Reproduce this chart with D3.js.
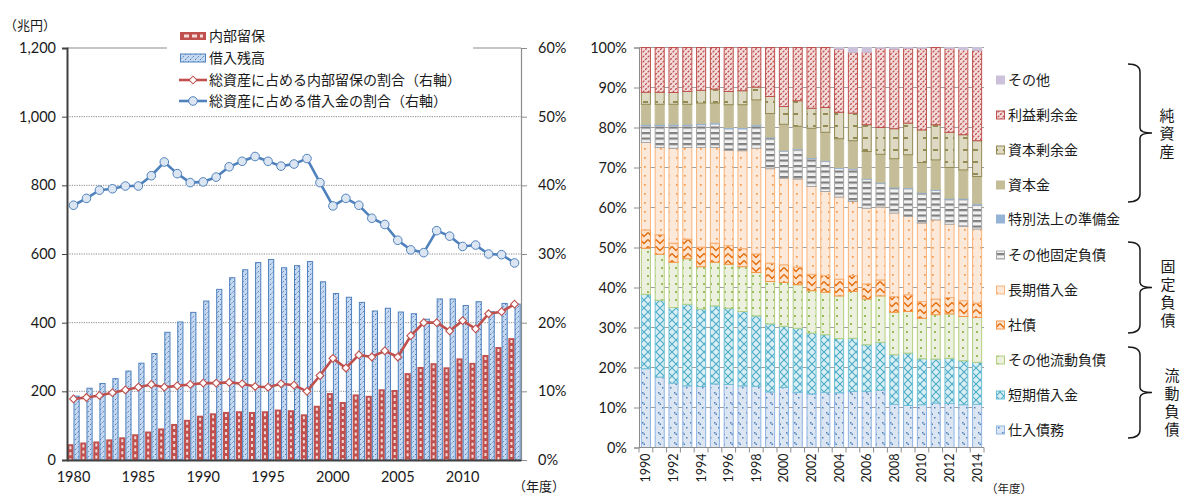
<!DOCTYPE html>
<html>
<head>
<meta charset="utf-8">
<script src="https://cdn.jsdelivr.net/npm/d3@7"></script>
<style>
  body { margin: 0; background: #fff; }
  svg text { font-family: Lato, "Noto Sans CJK JP", sans-serif; fill: #1a1a1a; }
  .jp { font-family: "Noto Sans CJK JP", sans-serif; }
  .vert { font-family: "Noto Sans CJK JP", sans-serif; writing-mode: vertical-rl; text-orientation: upright; }
</style>
</head>
<body>
<svg id="chart" width="1181" height="495"></svg>
<script>
// ---------- Left panel: retained earnings & borrowings (trillion yen) ----------
const leftYears = [1980,1981,1982,1983,1984,1985,1986,1987,1988,1989,1990,1991,1992,1993,1994,1995,1996,1997,1998,1999,2000,2001,2002,2003,2004,2005,2006,2007,2008,2009,2010,2011,2012,2013,2014];
const retained   = [46,51,54,60,66,75,83,92,105,117,129,136,140,142,140,142,147,145,133,158,195,169,191,187,206,204,253,271,282,270,296,283,306,329,355];
const borrowings = [186,209,223,237,259,282,310,372,402,430,463,497,531,554,575,584,560,566,578,519,485,474,459,434,442,431,426,410,469,469,450,461,432,456,454];
// share of total assets, percent (right axis)
const retainedShare = [8.9,9.1,9.4,9.8,10.2,10.6,11.0,10.6,10.8,11.0,11.2,11.2,11.3,11.1,10.7,10.6,11.1,10.9,10.0,12.3,14.8,13.4,15.3,15.0,15.9,15.0,18.1,20.0,20.0,18.8,20.3,19.1,21.3,21.6,22.7];
const borrowShare   = [37.1,38.1,39.3,39.5,39.9,39.9,41.4,43.4,41.7,40.4,40.5,41.2,42.7,43.5,44.2,43.5,42.8,43.1,43.9,40.4,37.0,38.1,37.1,35.2,34.3,32.0,30.6,30.2,33.4,32.6,31.1,31.3,30.0,29.9,28.7];
const leftValueTicks = [0,200,400,600,800,1000,1200];
const leftPctTicks = [0,10,20,30,40,50,60];
const leftYearLabels = [1980,1985,1990,1995,2000,2005,2010];
const leftLegend = ["内部留保","借入残高","総資産に占める内部留保の割合（右軸）","総資産に占める借入金の割合（右軸）"];

// ---------- Right panel: composition of liabilities & net assets (%) ----------
const rightYears = ["1990","1991","1992","1993","1994","1995","1996","1997","1998","1999","2000","2001","2002","2003","2004","2005","2006","2007","2008","2009","2010","2011","2012","2013","2014"];
const rightYearLabels = ["1990","1992","1994","1996","1998","2000","2002","2004","2006","2008","2010","2012","2014"];
const shiire     = [19.7,17.6,16.1,15.4,15.25,15.9,15.75,15.4,15.3,13.9,15.0,13.8,13.4,13.8,13.7,14.0,14.0,14.3,10.8,10.5,10.7,11.1,11.0,10.7,10.8];
const tanki      = [18.6,19.2,18.9,20.4,19.35,19.5,19.05,18.6,17.6,17.0,15.3,16.0,15.2,14.4,13.55,13.3,11.7,12.0,12.4,13.1,11.5,11.0,11.3,11.0,10.5];
const ryudoOther = [11.5,11.5,11.3,11.4,10.6,10.9,11.0,11.2,10.85,10.6,10.95,10.9,10.6,10.6,10.65,11.7,11.4,11.6,10.6,10.4,10.1,11.1,11.1,11.05,11.2];
const shasai     = [4.6,4.9,4.8,4.9,4.9,4.8,4.7,4.5,4.65,4.6,4.45,4.4,4.1,4.2,4.2,4.0,3.8,4.0,3.95,4.2,4.2,3.9,4.1,3.95,3.6];
const choki      = [21.85,21.8,23.7,22.9,24.9,23.9,23.75,24.5,26.4,23.6,21.6,22.0,21.95,21.0,20.5,18.5,18.9,18.2,20.85,19.55,19.6,19.8,18.3,18.55,18.5];
const koteiOther = [4.25,5.5,5.7,5.5,5.7,5.9,5.45,5.5,5.6,7.7,6.8,7.4,7.05,7.5,7.2,8.1,7.2,6.0,6.3,7.05,7.5,7.4,6.3,6.85,6.2];
const junbikin   = [0.3,0.3,0.3,0.3,0.3,0.3,0.3,0.3,0.3,0.2,0.2,0.2,0.2,0.2,0.2,0.2,0.2,0.2,0.2,0.2,0.2,0.2,0.2,0.2,0.2];
const shihonkin  = [5.0,5.0,5.0,5.0,5.1,4.9,5.7,5.7,6.2,5.9,6.5,5.6,7.3,7.1,7.2,6.9,6.8,7.0,7.1,8.2,7.45,7.4,7.7,7.1,6.75];
const shihonJoyo = [3.0,3.0,2.95,3.2,3.2,3.5,3.3,3.5,3.2,4.25,4.45,6.4,5.0,6.2,6.6,6.9,6.7,6.7,7.5,7.9,8.15,8.8,8.8,8.8,8.95];
const riekiJoyo  = [11.2,11.2,11.25,11.0,10.7,10.4,11.0,10.8,9.9,12.25,14.75,13.3,15.2,15.0,15.8,15.2,18.1,19.8,19.9,18.7,20.4,19.3,20.9,21.3,22.6];
const sonota     = [0,0,0,0,0,0,0,0,0,0,0,0,0,0,0.4,1.2,1.2,0.2,0.4,0.2,0.2,0,0.3,0.5,0.7];
const rightPctTicks = [0,10,20,30,40,50,60,70,80,90,100];

// series, bottom to top
const rightSeries = [
  {key:"shiire",     name:"仕入債務",         values:shiire,     fill:"url(#pShiire)", stroke:"#8eb4e3"},
  {key:"tanki",      name:"短期借入金",       values:tanki,      fill:"url(#pTanki)",  stroke:"#6fc0d6"},
  {key:"ryudoOther", name:"その他流動負債",   values:ryudoOther, fill:"url(#pRyudo)",  stroke:"#b3cf7f"},
  {key:"shasai",     name:"社債",             values:shasai,     fill:"url(#pShasai)", stroke:"#f79646"},
  {key:"choki",      name:"長期借入金",       values:choki,      fill:"url(#pChoki)",  stroke:"#f9b47c"},
  {key:"koteiOther", name:"その他固定負債",   values:koteiOther, fill:"url(#pKotei)",  stroke:"#a6a6a6"},
  {key:"junbikin",   name:"特別法上の準備金", values:junbikin,   fill:"#95b3d7",       stroke:"#95b3d7"},
  {key:"shihonkin",  name:"資本金",           values:shihonkin,  fill:"#c4bd97",       stroke:"#c4bd97"},
  {key:"shihonJoyo", name:"資本剰余金",       values:shihonJoyo, fill:"url(#pShihonJ)",stroke:"#948a54"},
  {key:"riekiJoyo",  name:"利益剰余金",       values:riekiJoyo,  fill:"url(#pRieki)",  stroke:"#c0504d"},
  {key:"sonota",     name:"その他",           values:sonota,     fill:"#ccc1da",       stroke:"#ccc1da"}
];

const svg = d3.select("#chart");
const defs = svg.append("defs");

function pattern(id, w, h, bg, draw) {
  const p = defs.append("pattern").attr("id", id)
    .attr("patternUnits", "userSpaceOnUse").attr("width", w).attr("height", h);
  p.append("rect").attr("width", w).attr("height", h).attr("fill", bg);
  draw(p);
}
pattern("pShiire", 8, 10, "#dce6f2", p => {
  p.append("rect").attr("x", 2).attr("y", 2).attr("width", 1.5).attr("height", 1.5).attr("fill", "#4f81bd");
  p.append("rect").attr("x", 3.5).attr("y", 3.5).attr("width", 1.5).attr("height", 1.5).attr("fill", "#4f81bd");
  p.append("rect").attr("x", 6).attr("y", 7).attr("width", 1.5).attr("height", 1.5).attr("fill", "#4f81bd");
});
pattern("pTanki", 8, 8, "#daeef3", p => {
  p.append("path").attr("d", "M0,0 L8,8 M8,0 L0,8").attr("stroke", "#4bacc6").attr("stroke-width", 1.1).attr("fill", "none");
});
pattern("pRyudo", 7, 8, "#ebf1de", p => {
  p.append("rect").attr("x", 3).attr("y", 3).attr("width", 2).attr("height", 2).attr("fill", "#9bbb59");
});
pattern("pShasai", 8, 7, "#fde4d0", p => {
  p.append("path").attr("d", "M0,1.5 L4,5.5 L8,1.5").attr("stroke", "#e46c0a").attr("stroke-width", 1.4).attr("fill", "none");
});
pattern("pChoki", 8, 9, "#fde9d9", p => {
  p.append("rect").attr("x", 4).attr("y", 4).attr("width", 1.7).attr("height", 1.7).attr("fill", "#f79646");
});
pattern("pKotei", 6, 5.5, "#f2f2f2", p => {
  p.append("rect").attr("x", 0).attr("y", 0).attr("width", 6).attr("height", 2.2).attr("fill", "#7f7f7f");
});
pattern("pShihonJ", 10, 12, "#ddd9c3", p => {
  p.append("rect").attr("x", 3).attr("y", 5).attr("width", 5).attr("height", 2).attr("fill", "#948a54");
});
pattern("pRieki", 5, 5, "#f2dcdb", p => {
  p.append("path").attr("d", "M0,5 L5,0").attr("stroke", "#c0504d").attr("stroke-width", 1.3).attr("stroke-dasharray", "2.5,1.2");
});
pattern("pBorrow", 5, 5, "#c6d9f1", p => {
  p.append("path").attr("d", "M0,5 L5,0").attr("stroke", "#4f81bd").attr("stroke-width", 1).attr("stroke-dasharray", "2,1.5");
});

// =============== LEFT PANEL ===============
const L = {x0: 67, x1: 521, y0: 460, y1: 48};
const xL = d3.scaleBand().domain(leftYears).range([L.x0, L.x1]);
const xSub = d3.scaleBand().domain(["r", "b"]).range([0, xL.bandwidth()]).paddingOuter(0.05);
const yL = d3.scaleLinear().domain([0, 1200]).range([L.y0, L.y1]);
const yP = d3.scaleLinear().domain([0, 60]).range([L.y0, L.y1]);

const gl = svg.append("g");
// gridlines
gl.append("g").selectAll("line").data(leftValueTicks.filter(d => d > 0)).join("line")
  .attr("x1", L.x0).attr("x2", L.x1)
  .attr("y1", d => yL(d)).attr("y2", d => yL(d))
  .attr("stroke", d => d === 1200 ? "#8c8c8c" : "#7f7f7f")
  .attr("stroke-width", d => d === 1200 ? 1.2 : 0.9)
  .attr("stroke-dasharray", d => d === 1200 ? null : "1.2,1.2");

// retained earnings bars
const gRet = gl.append("g");
leftYears.forEach((yr, i) => {
  const x = xL(yr) + xSub("r"), w = xSub.bandwidth();
  gRet.append("rect").attr("x", x).attr("y", yL(retained[i])).attr("width", w)
    .attr("height", yL(0) - yL(retained[i])).attr("fill", "#c0504d");
  gRet.append("line").attr("x1", x + w / 2).attr("x2", x + w / 2)
    .attr("y1", yL(retained[i]) + 2).attr("y2", yL(0))
    .attr("stroke", "#f2dcdb").attr("stroke-width", 2).attr("stroke-dasharray", "3,3");
});
// borrowings bars
gl.append("g").selectAll("rect").data(leftYears).join("rect")
  .attr("x", d => xL(d) + xSub("b") + 0.5)
  .attr("y", (d, i) => yL(borrowings[i]))
  .attr("width", xSub.bandwidth() - 1)
  .attr("height", (d, i) => yL(0) - yL(borrowings[i]))
  .attr("fill", "url(#pBorrow)").attr("stroke", "#4f81bd").attr("stroke-width", 1);

const cx = d => xL(d) + xL.bandwidth() / 2;
// retained share line
gl.append("path").datum(leftYears)
  .attr("d", d3.line().x(cx).y((d, i) => yP(retainedShare[i])))
  .attr("fill", "none").attr("stroke", "#c0504d").attr("stroke-width", 2.6);
gl.append("g").selectAll("path").data(leftYears).join("path")
  .attr("transform", (d, i) => `translate(${cx(d)},${yP(retainedShare[i])}) rotate(45)`)
  .attr("d", d3.symbol().type(d3.symbolSquare).size(30))
  .attr("fill", "#fff").attr("stroke", "#c0504d").attr("stroke-width", 1.1);
// borrowings share line
gl.append("path").datum(leftYears)
  .attr("d", d3.line().x(cx).y((d, i) => yP(borrowShare[i])))
  .attr("fill", "none").attr("stroke", "#4f81bd").attr("stroke-width", 2.6);
gl.append("g").selectAll("circle").data(leftYears).join("circle")
  .attr("cx", cx).attr("cy", (d, i) => yP(borrowShare[i])).attr("r", 4.3)
  .attr("fill", "#dce6f2").attr("stroke", "#4f81bd").attr("stroke-width", 1);

// axes
const axL = gl.append("g").attr("transform", `translate(${L.x0},0)`)
  .call(d3.axisLeft(yL).tickValues(leftValueTicks).tickFormat(d3.format(",")).tickSize(5).tickPadding(6));
axL.select(".domain").attr("stroke", "#404040").attr("stroke-width", 2);
axL.selectAll(".tick line").attr("stroke", "#404040");
const axR = gl.append("g").attr("transform", `translate(${L.x1},0)`)
  .call(d3.axisRight(yP).tickValues(leftPctTicks).tickFormat(d => d + "%").tickSize(6).tickPadding(11));
axR.select(".domain").attr("stroke", "#8c8c8c").attr("stroke-width", 1.2);
axR.selectAll(".tick line").attr("stroke", "#8c8c8c");
const axB = gl.append("g").attr("transform", `translate(0,${L.y0})`)
  .call(d3.axisBottom(xL).tickValues(leftYearLabels).tickSize(0).tickPadding(12));
axB.select(".domain").attr("stroke", "#404040").attr("stroke-width", 2);
[axL, axR, axB].forEach(a => a.selectAll("text").attr("font-size", 14.5).attr("font-family", "Lato, sans-serif").attr("fill", "#1a1a1a"));

gl.append("text").attr("class", "jp").attr("x", 4).attr("y", 30).attr("font-size", 13).text("（兆円）");
gl.append("text").attr("class", "jp").attr("x", 513).attr("y", 491).attr("font-size", 13).text("（年度）");

// legend
const lg = gl.append("g");
lg.append("rect").attr("x", 167).attr("y", 24).attr("width", 306).attr("height", 89).attr("fill", "#fff");
const legY = [36, 58, 80, 101];
lg.append("rect").attr("x", 180).attr("y", legY[0] - 4).attr("width", 26).attr("height", 8).attr("fill", "#c0504d");
lg.append("line").attr("x1", 184).attr("x2", 203).attr("y1", legY[0]).attr("y2", legY[0])
  .attr("stroke", "#f2dcdb").attr("stroke-width", 3).attr("stroke-dasharray", "5,3");
lg.append("rect").attr("x", 180.5).attr("y", legY[1] - 4).attr("width", 25).attr("height", 8)
  .attr("fill", "url(#pBorrow)").attr("stroke", "#4f81bd");
lg.append("line").attr("x1", 179).attr("x2", 207).attr("y1", legY[2]).attr("y2", legY[2])
  .attr("stroke", "#c0504d").attr("stroke-width", 2.6);
lg.append("path").attr("transform", `translate(193,${legY[2]}) rotate(45)`)
  .attr("d", d3.symbol().type(d3.symbolSquare).size(30)).attr("fill", "#fff").attr("stroke", "#c0504d");
lg.append("line").attr("x1", 179).attr("x2", 207).attr("y1", legY[3]).attr("y2", legY[3])
  .attr("stroke", "#4f81bd").attr("stroke-width", 2.6);
lg.append("circle").attr("cx", 193).attr("cy", legY[3]).attr("r", 4.3)
  .attr("fill", "#dce6f2").attr("stroke", "#4f81bd");
lg.selectAll("text").data(leftLegend).join("text").attr("class", "jp")
  .attr("x", 209).attr("y", (d, i) => legY[i] + 5).attr("font-size", 14).text(d => d);

// =============== RIGHT PANEL ===============
const R = {x0: 639, x1: 984, y0: 447.5, y1: 47.5};
const xR = d3.scaleBand().domain(rightYears).range([R.x0, R.x1]).paddingInner(0.27).paddingOuter(0.135);
const yR = d3.scaleLinear().domain([0, 100]).range([R.y0, R.y1]);
const gr = svg.append("g");

gr.append("g").selectAll("line").data(rightPctTicks.filter(d => d > 0)).join("line")
  .attr("x1", R.x0).attr("x2", R.x1).attr("y1", d => yR(d)).attr("y2", d => yR(d))
  .attr("stroke", "#a0a0a0").attr("stroke-width", 1);

const rows = rightYears.map((yr, i) => {
  const r = {year: yr};
  rightSeries.forEach(s => r[s.key] = s.values[i]);
  return r;
});
const stacked = d3.stack().keys(rightSeries.map(s => s.key))(rows);
stacked.forEach((layer, li) => {
  const s = rightSeries[li];
  gr.append("g").selectAll("rect").data(layer.filter(d => d[1] - d[0] > 0)).join("rect")
    .attr("x", d => xR(d.data.year) + 0.5)
    .attr("y", d => yR(d[1]))
    .attr("width", xR.bandwidth() - 1)
    .attr("height", d => yR(d[0]) - yR(d[1]))
    .attr("fill", s.fill).attr("stroke", s.stroke).attr("stroke-width", 1);
});

const axRL = gr.append("g").attr("transform", `translate(${R.x0},0)`)
  .call(d3.axisLeft(yR).tickValues(rightPctTicks).tickFormat(d => d + "%").tickSize(5).tickPadding(7));
axRL.select(".domain").attr("stroke", "#8c8c8c");
axRL.selectAll(".tick line").attr("stroke", "#8c8c8c");
axRL.selectAll("text").attr("font-size", 14.5).attr("font-family", "Lato, sans-serif").attr("fill", "#1a1a1a");

// bottom axis with category ticks between bars
const xEdges = rightYears.map(y => xR(y) - xR.step() * xR.paddingInner() / 2).concat([R.x1]);
gr.append("line").attr("x1", R.x0).attr("x2", R.x1).attr("y1", R.y0).attr("y2", R.y0).attr("stroke", "#8c8c8c");
gr.append("g").selectAll("line").data(xEdges).join("line")
  .attr("x1", d => d).attr("x2", d => d).attr("y1", R.y0).attr("y2", R.y0 + 5).attr("stroke", "#8c8c8c");
gr.append("g").selectAll("text").data(rightYearLabels).join("text")
  .attr("transform", d => `translate(${xR(d) + xR.bandwidth() / 2 + 4.5},${R.y0 + 6}) rotate(-90)`)
  .attr("text-anchor", "end").attr("font-size", 12.5).text(d => d);
gr.append("text").attr("class", "jp").attr("x", 986).attr("y", 493).attr("font-size", 11.5).text("（年度）");

// right legend, top entry first
const legendOrder = ["sonota","riekiJoyo","shihonJoyo","shihonkin","junbikin","koteiOther","choki","shasai","ryudoOther","tanki","shiire"];
const legendSeries = legendOrder.map(k => rightSeries.find(s => s.key === k));
const rlY = [80, 115, 150, 185, 219, 255, 290, 325, 360, 395, 430];
const rl = gr.append("g");
legendSeries.forEach((s, i) => {
  rl.append("rect").attr("x", 996.5).attr("y", rlY[i] - 4).attr("width", 8).attr("height", 8)
    .attr("fill", s.fill).attr("stroke", s.stroke);
  rl.append("text").attr("class", "jp").attr("x", 1008).attr("y", rlY[i] + 5).attr("font-size", 14).text(s.name);
});

// group braces and vertical captions
const braces = [
  {top: 64, bot: 202, label: "純資産", tx: 1167, ty: 108},
  {top: 242, bot: 333, label: "固定負債", tx: 1168, ty: 259},
  {top: 347, bot: 438, label: "流動負債", tx: 1172, ty: 368}
];
braces.forEach(b => {
  const m = (b.top + b.bot) / 2, x0 = 1128, xv = 1140, xt = 1152;
  rl.append("path").attr("d",
    `M${x0},${b.top} Q${xv},${b.top} ${xv},${b.top + 8} L${xv},${m - 5} Q${xv},${m} ${xt},${m}` +
    ` Q${xv},${m} ${xv},${m + 5} L${xv},${b.bot - 8} Q${xv},${b.bot} ${x0},${b.bot}`)
    .attr("fill", "none").attr("stroke", "#1a1a1a").attr("stroke-width", 1.5);
  rl.append("text").attr("class", "vert").attr("x", b.tx).attr("y", b.ty)
    .attr("font-size", 15).attr("letter-spacing", 3).text(b.label);
});
</script>
</body>
</html>
